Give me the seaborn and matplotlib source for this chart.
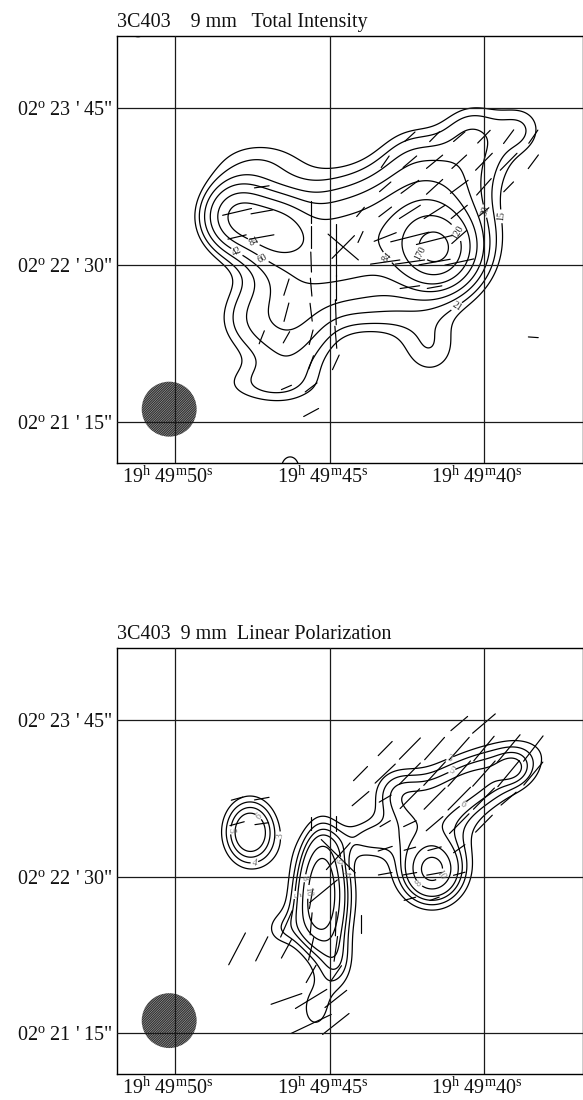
import numpy as np
import pandas as pd
import matplotlib
matplotlib.use("Agg")
import matplotlib.pyplot as plt
import seaborn as sns
from matplotlib.patches import Ellipse
from matplotlib.transforms import ScaledTranslation

# ---------------- data ----------------
# RA in seconds of 19h49m, Dec in arcsec offset from +02d22'30"
ra_ticks = [50, 45, 40]
ra_labels = ["19$^{\\mathrm{h}}$ 49$^{\\mathrm{m}}$50$^{\\mathrm{s}}$",
             "19$^{\\mathrm{h}}$ 49$^{\\mathrm{m}}$45$^{\\mathrm{s}}$",
             "19$^{\\mathrm{h}}$ 49$^{\\mathrm{m}}$40$^{\\mathrm{s}}$"]
dec_ticks = [-75, 0, 75]
dec_labels = ["02$^{\\mathrm{o}}$ 21 ' 15\"", "02$^{\\mathrm{o}}$ 22 ' 30\"",
              "02$^{\\mathrm{o}}$ 23 ' 45\""]

# Total intensity: source components (RA s, Dec ", amp, major ", minor ", PA deg)
ti_ra = [41.52, 42.07, 48.00, 46.74, 47.32, 44.83, 40.62, 38.83, 40.45, 42.40,
         46.29, 43.37, 41.75, 47.26, 44.83, 47.74, 47.26]
ti_dec = [7.18, 16.75, 23.45, 16.75, 18.67, 7.18, 50.25, 64.6, 65.6, 55.0,
          -26.3, -21.5, -40.7, -57.4, -67.0, -26.3, 50.3]
ti_amp = [130, 70, 75, 65, 12, 60, 22, 10, 12, 8, 35, 10, 18, 15, 8, 16, 15]
ti_major = [11.5, 21.6, 10.6, 10.6, 19.2, 19.2, 28.8, 7.7, 9.6, 10.6,
            21.6, 16.8, 12, 19.2, 5.8, 12, 19.2]
ti_minor = [11.5, 21.6, 10.6, 10.6, 19.2, 19.2, 13.4, 7.7, 9.6, 10.6,
            14.4, 9.6, 12, 7.7, 5.8, 12, 9.6]
ti_pa = [0, 0, 0, 0, 0, 0, -58, 0, 0, 0, 0, 90, 0, 90, 0, 0, 90]
# faint unlabelled emission cut by the map edges
ti_edge_ra = [46.28, 51.21]
ti_edge_dec = [-97.0, 113.4]
ti_edge_amp = [19, 24]
ti_edge_major = [7.5, 4.3]
ti_edge_minor = [6.0, 4.3]
ti_edge_pa = [0, 0]
ti_levels = [15, 21, 30, 42, 60, 84, 120, 170]

# Linear polarization: components
pi_ra = [41.68, 41.68, 40.13, 39.00, 45.25, 45.38, 45.47, 47.58, 43.76, 46.67,
         42.88, 44.73, 45.25]
pi_dec = [2.25, 12.76, 47.16, 51.94, 0.81, -23.1, -63.7, 21.36, 18.5, -25.5,
          41.4, -42.2, -11.1]
pi_amp = [7, 4.5, 6, 2, 8.8, 4, 3.4, 7.8, 3, 2.5, 3, 3.5, 3.5]
pi_major = [9.6, 21.6, 26.4, 5.8, 18.2, 12, 11.5, 12.5, 9.6, 7.2, 9.6, 10.6, 16.8]
pi_minor = [9.6, 16.8, 11.5, 5.8, 7.7, 8.6, 7.7, 10.0, 6.7, 7.2, 9.6, 6.7, 14.4]
pi_pa = [0, 0, -67, 0, 0, 0, 0, 0, 90, 0, 0, 0, 0]
pi_levels = [3, 4, 5, 6, 8, 10]

# polarization vectors (RA s, Dec ", position angle deg, length ")
ti_vec_ra = [42.4, 41.6, 40.8, 40.0, 39.2, 38.4,
             43.2, 42.4, 41.6, 40.8, 40.0, 39.2, 38.4,
             47.2, 43.2, 42.4, 41.6, 40.8, 40.0, 39.2,
             48.0, 47.2, 45.6, 44.0, 43.2, 42.4, 41.6, 40.8, 40.0,
             48.0, 47.2, 45.6, 44.8, 44.56, 44.56, 44.0, 43.2, 42.4, 41.6, 40.8,
             45.6, 44.8, 43.2, 42.4, 41.6, 40.8,
             46.4, 45.6, 44.8, 42.4, 41.6,
             46.4, 45.6, 44.8,
             47.2, 46.4, 45.6, 44.8, 38.4,
             45.6, 44.8, 46.4, 45.6, 45.6]
ti_vec_dec = [61.4] * 6 + [49.4] * 7 + [37.4] * 7 + [25.4] * 9 + \
             [13.4, 13.4, 13.4, 13.4, 8.6, 8.6, 13.4, 13.4, 13.4, 12.0, 13.4] + \
             [1.4] * 6 + [-10.6] * 5 + [-22.6] * 3 + [-34.6] * 5 + \
             [-46.6, -46.6, -58.6, -58.6, -70.6]
ti_vec_pa = [-48, -45, -50, -45, -37, -35,
             -35, -50, -51, -48, -45, -45, -37,
             -82, -50, -54, -48, -54, -42, -45,
             -77, -80, 0, -40, -53, -58, -58, -51, -50,
             -77, -80, 0, 0, 50, -45, -25, -69, -76, -76, -49,
             2, 0, -82, -82, -80, -78,
             -18, 5, 0, -82, -80,
             -15, 7, 2,
             -22, -30, -15, 5, 86,
             -20, -25, -67, -53, -62]
ti_vec_len = [6.7, 6.7, 7.2, 8.6, 8.2, 7.7,
              6.7, 8.6, 10.1, 9.6, 11.5, 11.5, 8.2,
              7.2, 7.2, 10.6, 10.6, 10.6, 10.6, 6.7,
              14.4, 10.6, 10.6, 5.8, 7.7, 12.0, 12.0, 10.1, 6.2,
              9.1, 12.0, 10.6, 12.0, 19.2, 15.4, 5.8, 11.5, 19.2, 18.2, 9.6,
              9.6, 13.4, 14.4, 14.4, 15.4, 14.4,
              8.2, 8.6, 12.0, 9.6, 7.2,
              9.1, 8.6, 12.0,
              6.7, 6.2, 7.2, 10.6, 4.8,
              6.7, 7.7, 5.3, 7.2, 8.2]

pi_vec_ra = [48.0, 47.2, 48.0, 47.2,
             45.6, 44.8, 44.72, 44.72, 45.2, 45.6, 45.6, 44.8, 46.4, 45.6, 44.8,
             46.4, 47.2, 48.0, 44.0, 45.6, 44.8, 46.4, 45.6, 44.8, 45.6, 44.8,
             40.8, 40.0,
             43.2, 42.4, 41.6, 40.8, 40.0, 39.2, 38.4,
             44.0, 43.2, 42.4, 41.6, 40.8, 40.0, 39.2, 38.4,
             44.0, 43.2, 42.4, 41.6, 40.8, 40.0, 39.2,
             43.2, 42.4, 41.6, 40.8, 40.0,
             43.2, 42.4, 41.6, 40.8,
             43.2, 42.4, 41.6, 40.8,
             42.4, 41.6]
pi_vec_dec = [37.4, 37.4, 25.4, 25.4,
              25.4, 25.4, 9.8, 9.8, -7.0, -10.6, -22.6, -22.6, -22.6, -34.6, -34.6,
              -34.6, -34.6, -34.6, -22.6, -46.6, -46.6, -58.6, -58.6, -58.6, -70.6, -70.6,
              73.4, 73.4] + [61.4] * 7 + [49.4] * 8 + [37.4] * 7 + [25.4] * 5 + \
             [13.4] * 4 + [1.4] * 4 + [-10.6] * 2
pi_vec_pa = [-75, -80, -75, -82,
             0, 0, 46, -42, -51, -10, -5, -2, -24, -13, -8,
             -29, -27, -28, 0, -30, -35, -71, -59, -52, -65, -52,
             -50, -50,
             -45, -45, -42, -42, -40, -40, -38,
             -45, -47, -45, -43, -42, -42, -40, -40,
             -50, -60, -45, -45, -45, -45, -50,
             -60, -65, -50, -45, -45,
             -72, -75, -75, -55,
             -80, -80, -80, -75,
             -75, -70]
pi_vec_len = [5.8, 7.2, 7.2, 6.7,
              6.2, 7.2, 23.0, 17.3, 17.3, 9.6, 10.6, 11.5, 13.9, 11.0, 12.0,
              10.1, 13.0, 17.3, 8.6, 9.6, 9.6, 15.8, 17.8, 13.4, 21.6, 16.3,
              10.6, 14.4,
              9.6, 14.4, 14.4, 14.4, 15.4, 17.3, 15.4,
              9.6, 13.4, 14.4, 15.4, 16.3, 16.3, 16.3, 14.4,
              10.6, 6.7, 13.4, 14.4, 15.4, 14.4, 9.6,
              5.8, 6.7, 10.6, 13.4, 11.5,
              7.2, 5.8, 6.7, 6.7,
              6.7, 6.7, 7.7, 5.8,
              5.8, 4.8]

beam_ra, beam_dec, beam_w, beam_h = 50.20, -69.0, 1.78, 26.3
xlim = (51.90, 36.79)
ylim = (-94.6, 109.6)

# ---------------- style ----------------
sns.set_theme(style="white")
plt.rcParams["font.family"] = ["Liberation Serif", "DejaVu Serif"]
plt.rcParams["mathtext.fontset"] = "custom"
plt.rcParams["mathtext.rm"] = "Liberation Serif"
plt.rcParams["mathtext.it"] = "Liberation Serif:italic"
plt.rcParams["hatch.linewidth"] = 1.0

fig = plt.figure(figsize=(5.83, 11.0), dpi=100)
ax_top = fig.add_axes([0.2002, 0.5794, 0.7998, 0.3879])
ax_bot = fig.add_axes([0.2002, 0.0236, 0.7998, 0.3873])

gra = np.linspace(36.0, 52.5, 420)
gdec = np.linspace(-115, 125, 480)
RA, DEC = np.meshgrid(gra, gdec)


def model(cra, cdec, amp, maj, mnr, pa):
    tot = np.zeros_like(RA)
    for r0, d0, a, mj, mn, p in zip(cra, cdec, amp, maj, mnr, pa):
        dx = (RA - r0) * 15.0
        dy = DEC - d0
        t = np.radians(p)
        u = dx * np.sin(t) + dy * np.cos(t)
        v = dx * np.cos(t) - dy * np.sin(t)
        tot += a * np.exp(-0.5 * ((u / mj) ** 2 + (v / mn) ** 2))
    return tot


def vectors(vra, vdec, vpa, vlen):
    rows = []
    for k, (r, d, p, l) in enumerate(zip(vra, vdec, vpa, vlen)):
        t = np.radians(p)
        dra = 0.5 * l * np.sin(t) / 15.0
        ddec = 0.5 * l * np.cos(t)
        rows.append((k, r - dra, d - ddec))
        rows.append((k, r + dra, d + ddec))
    return pd.DataFrame(rows, columns=["seg", "ra", "dec"])


def panel(ax, field, levels, lab_color, vdf, title, edge=None):
    cs = ax.contour(RA, DEC, field, levels=levels, colors="black",
                    linewidths=0.9)
    ax.clabel(cs, fmt="%d", fontsize=7, inline=True, inline_spacing=1,
              colors=lab_color)
    if edge is not None:
        ax.contour(RA, DEC, edge, levels=levels, colors="black",
                   linewidths=0.9)
    sns.lineplot(data=vdf, x="ra", y="dec", units="seg", estimator=None,
                 sort=False, color="black", linewidth=0.85, ax=ax,
                 legend=False)
    ax.add_patch(Ellipse((beam_ra, beam_dec), beam_w, beam_h,
                         facecolor="none", edgecolor="#333333",
                         hatch="//////////////", linewidth=0))
    ax.set_xlim(*xlim)
    ax.set_ylim(*ylim)
    ax.set_xticks(ra_ticks)
    ax.set_xticklabels(ra_labels)
    ax.set_yticks(dec_ticks)
    ax.set_yticklabels(dec_labels)
    ax.set_xlabel("")
    ax.set_ylabel("")
    ax.grid(True, color="#1a1a1a", linewidth=0.9)
    ax.set_axisbelow(False)
    ax.tick_params(length=0, pad=2.5, labelsize=14.5, colors="#111111")
    for s in ax.spines.values():
        s.set_color("black")
        s.set_linewidth(1.0)
    off = ScaledTranslation(-7 / 100, 0, fig.dpi_scale_trans)
    for lab in ax.get_xticklabels():
        lab.set_transform(lab.get_transform() + off)
    bb = ax.get_position()
    fig.text(bb.x0, bb.y1 + 0.0078, title, ha="left", va="baseline",
             fontsize=14.5, color="#111111")


ti_field = model(ti_ra, ti_dec, ti_amp, ti_major, ti_minor, ti_pa)
ti_edge = model(ti_edge_ra, ti_edge_dec, ti_edge_amp, ti_edge_major,
                ti_edge_minor, ti_edge_pa)
pi_field = model(pi_ra, pi_dec, pi_amp, pi_major, pi_minor, pi_pa)

panel(ax_top, ti_field, ti_levels, "#222222",
      vectors(ti_vec_ra, ti_vec_dec, ti_vec_pa, ti_vec_len),
      "3C403    9 mm   Total Intensity", edge=ti_edge)
panel(ax_bot, pi_field, pi_levels, "#777777",
      vectors(pi_vec_ra, pi_vec_dec, pi_vec_pa, pi_vec_len),
      "3C403  9 mm  Linear Polarization")

fig.savefig("out.png", dpi=100)
